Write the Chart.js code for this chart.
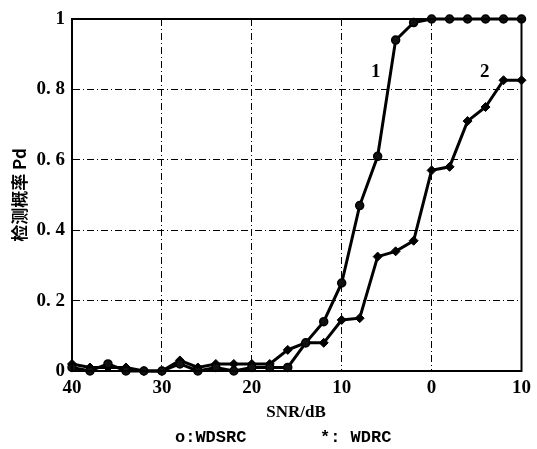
<!DOCTYPE html>
<html>
<head>
<meta charset="utf-8">
<script src="https://cdn.jsdelivr.net/npm/chart.js@4.4.0/dist/chart.umd.min.js"></script>
<style>
  html, body { margin: 0; padding: 0; background: #fff; }
  #wrap { width: 537px; height: 449px; }
</style>
</head>
<body>
<div id="wrap"><canvas id="pdChart" width="537" height="449"></canvas></div>
<script>
// SNR (dB) de 40 a -10, cada 2 dB
const snr = [40, 38, 36, 34, 32, 30, 28, 26, 24, 22, 20, 18, 16, 14, 12, 10, 8, 6, 4, 2, 0, -2, -4, -6, -8, -10];
// curva 1: WDSRC (circulos)
const pdWdsrc = [0.01, 0.0, 0.02, 0.0, 0.0, 0.0, 0.02, 0.0, 0.01, 0.0, 0.01, 0.01, 0.01, 0.08, 0.14, 0.25, 0.47, 0.61, 0.94, 0.99, 1, 1, 1, 1, 1, 1];
// curva 2: WDRC (estrellas)
const pdWdrc = [0.02, 0.01, 0.01, 0.01, 0.0, 0.0, 0.03, 0.01, 0.02, 0.02, 0.02, 0.02, 0.06, 0.08, 0.08, 0.145, 0.15, 0.325, 0.34, 0.37, 0.57, 0.58, 0.71, 0.75, 0.826, 0.826];
// etiquetas de curva (posicion en datos)
const curveLabels = ['1', '2'];
const curveLabelX = [6.2, -5.9];
const curveLabelY = [0.85, 0.85];

const serif = '"Liberation Serif", "DejaVu Serif", serif';
const mono = '"Liberation Mono", "DejaVu Sans Mono", monospace';
const cjk = '"Noto Sans CJK SC", sans-serif';

const toPts = vals => snr.map((s, i) => ({ x: s, y: vals[i] }));

// caja, etiquetas 1/2 y leyenda inferior
const extras = {
    id: 'extras',
    afterDraw(chart) {
        const { ctx, chartArea: a, scales } = chart;
        ctx.save();
        ctx.strokeStyle = '#000';
        ctx.lineWidth = 2;
        ctx.strokeRect(a.left, a.top, a.right - a.left, a.bottom - a.top);

        ctx.fillStyle = '#000';
        ctx.font = 'bold 19px ' + serif;
        ctx.textAlign = 'center';
        ctx.textBaseline = 'middle';
        curveLabels.forEach((t, i) => {
            ctx.fillText(t, scales.x.getPixelForValue(curveLabelX[i]), scales.y.getPixelForValue(curveLabelY[i]));
        });

        ctx.font = 'bold 17px ' + serif;
        ctx.fillText('SNR/dB', 296, 413);
        ctx.textAlign = 'left';
        ctx.font = 'bold 17px ' + mono;
        ctx.fillText('o:WDSRC', 175, 438);
        ctx.fillText('*: WDRC', 320, 438);
        ctx.restore();
    }
};

new Chart(document.getElementById('pdChart').getContext('2d'), {
    type: 'line',
    data: {
        datasets: [{
            label: 'WDSRC',
            data: toPts(pdWdsrc),
            borderColor: '#000',
            backgroundColor: '#111',
            borderWidth: 3,
            pointStyle: 'circle',
            pointRadius: 4,
            pointBorderWidth: 1.5,
            pointBorderColor: '#000',
            tension: 0,
            clip: 10
        }, {
            label: 'WDRC',
            data: toPts(pdWdrc),
            borderColor: '#000',
            backgroundColor: '#000',
            borderWidth: 3,
            pointStyle: 'rectRot',
            pointRadius: 4.5,
            pointBorderWidth: 1,
            tension: 0,
            clip: 10
        }]
    },
    options: {
        responsive: false,
        animation: false,
        layout: { padding: { top: 19, right: 10, left: 0, bottom: 0 } },
        plugins: { legend: { display: false }, tooltip: { enabled: false } },
        scales: {
            x: {
                type: 'linear',
                reverse: true,
                min: -10,
                max: 40,
                afterFit: s => { s.height = 78; },
                ticks: {
                    stepSize: 10,
                    color: '#000',
                    padding: 6,
                    font: { family: serif, size: 19, weight: 'bold' },
                    callback: v => String(Math.abs(v))
                },
                grid: { color: '#000', lineWidth: 1, drawTicks: false },
                border: { display: true, color: '#000', width: 2, dash: [7, 3, 1, 3] }
            },
            y: {
                min: 0,
                max: 1,
                afterFit: s => { s.width = 72; },
                ticks: {
                    stepSize: 0.2,
                    color: '#000',
                    padding: 7,
                    font: { family: serif, size: 19, weight: 'bold' },
                    callback: v => (v === 0 || v === 1) ? String(v) : v.toFixed(1).replace('.', '. ')
                },
                grid: { color: '#000', lineWidth: 1, drawTicks: false },
                border: { display: true, color: '#000', width: 2, dash: [7, 3, 1, 3] },
                title: {
                    display: true,
                    text: '检测概率 Pd',
                    color: '#000',
                    padding: { top: 9, bottom: 0 },
                    font: { family: cjk, size: 17, weight: 'bold' }
                }
            }
        }
    },
    plugins: [extras]
});
</script>
</body>
</html>
